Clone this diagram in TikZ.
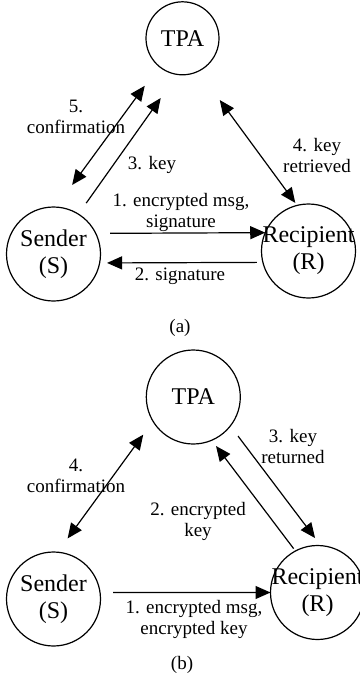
\documentclass[tikz,border=0pt]{standalone}
\usepackage{fontspec}
\setmainfont{Liberation Serif}
\usetikzlibrary{arrows.meta}

\begin{document}
\begin{tikzpicture}[x=1pt, y=-1pt, line width=1.2pt,
    ptext/.style={align=center, inner sep=0pt, font=\fontsize{24}{27}\selectfont},
    party/.style={draw, circle, minimum size=94pt, inner sep=0pt, outer sep=0pt, label={[ptext]center:#1}},
    lbl/.style={align=center, inner sep=0pt, font=\fontsize{19}{21}\selectfont},
    msg/.style={-{Triangle[length=15pt,width=13pt]}},
    both/.style={{Triangle[length=15pt,width=13pt]}-{Triangle[length=15pt,width=13pt]}}]
    \useasboundingbox (0,0) rectangle (359,680);
    \node[party=TPA, minimum size=73pt] (Ta) at (182.5,38.3) {};
    \node[party={Sender\\(S)}] (Sa) at (53.5,254) {};
    \node[party={Recipient\\(R)}] (Ra) at (308.5,251) {};
    \draw[msg, shorten <=14.4pt] (Sa.26.5) -- (Ra.157.5);
    \draw[msg, shorten <=6pt, shorten >=7.4pt] (Ra.194.8) -- (Sa.349);
    \draw[both, shorten <=27.4pt, shorten >=24.2pt] (Sa.87.3) -- (Ta.230.7);
    \draw[msg, shorten <=13.5pt, shorten >=28.9pt] (Sa.58.4) -- (Ta.262.6);
    \draw[both, shorten <=35.9pt, shorten >=3.1pt] (Ta.296.6) -- (Ra.104.4);
    \node[lbl] (l5a) at (76,117) {5.\\confirmation};
    \node[lbl] (l3a) at (152,165) {3. key};
    \node[lbl] (l4a) at (317,155.5) {4. key\\retrieved};
    \node[lbl] (l1a) at (181,212) {1. encrypted msg,\\signature};
    \node[lbl] (l2a) at (180,276.5) {2. signature};
    \node[lbl] (capa) at (180,328) {(a)};
    \node[party=TPA] (Tb) at (193.3,397) {};
    \node[party={Sender\\(S)}] (Sb) at (53.5,599) {};
    \node[party={Recipient\\(R)}] (Rb) at (317.5,592.5) {};
    \draw[msg, shorten <=13pt] (Sb.8.6) -- (Rb.180.6);
    \draw[both, shorten <=17pt, shorten >=16.6pt] (Sb.85.2) -- (Tb.211.7);
    \draw[msg, shorten <=3pt, shorten >=7.2pt] (Rb.118.9) -- (Tb.293);
    \draw[msg, shorten <=12.7pt, shorten >=9.5pt] (Tb.322.1) -- (Rb.86);
    \node[lbl] (l4b) at (76,476) {4.\\confirmation};
    \node[lbl] (l2b) at (198,521.5) {2. encrypted\\key};
    \node[lbl] (l3b) at (293,446) {3. key\\returned};
    \node[lbl] (l1b) at (194,619) {1. encrypted msg,\\encrypted key};
    \node[lbl] (capb) at (182,665) {(b)};
\end{tikzpicture}
\end{document}
